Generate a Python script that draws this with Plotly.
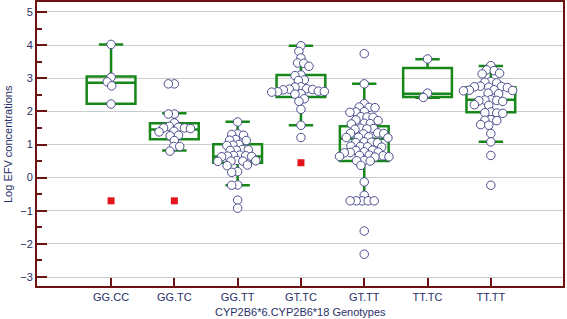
import math
import plotly.graph_objects as go

# ---------------- data ----------------
categories = ["GG.CC", "GG.TC", "GG.TT", "GT.TC", "GT.TT", "TT.TC", "TT.TT"]

gg_cc = [4.02, 3.03, 2.89, 2.77, 2.22]
gg_tc = [2.83, 2.83, 1.92, 1.92, 1.65, 1.55, 1.52, 1.5, 1.5, 1.48, 1.40, 1.38,
         1.28, 1.26, 1.12, 0.94, 0.94, 0.8]
gg_tt = [1.68, 1.32, 1.3, 1.28, 1.15, 1.13, 1.12, 1.0, 0.98, 0.97, 0.85, 0.84,
         0.83, 0.82, 0.68, 0.67, 0.66, 0.65, 0.64, 0.63, 0.52, 0.51, 0.5, 0.5,
         0.49, 0.38, 0.36, 0.18, 0.16, -0.22, -0.23, -0.68, -0.92]
gt_tc = [3.98, 3.81, 3.61, 3.46, 3.45, 3.36, 3.1, 3.08, 2.95, 2.93, 2.74, 2.73,
         2.68, 2.67, 2.66, 2.65, 2.61, 2.6, 2.59, 2.58, 2.53, 2.52, 2.38, 2.3,
         2.06, 1.58, 1.21]
gt_tt = [3.74, 2.83, 2.23, 2.13, 2.12, 2.11, 1.99, 1.98, 1.97, 1.84, 1.83, 1.82,
         1.74, 1.72, 1.64, 1.63, 1.62, 1.49, 1.48, 1.47, 1.46, 1.35, 1.34, 1.33,
         1.32, 1.23, 1.22, 1.21, 1.2, 1.08, 1.07, 1.06, 1.05, 0.95, 0.94, 0.93,
         0.92, 0.83, 0.82, 0.78, 0.77, 0.76, 0.75, 0.68, 0.67, 0.66, 0.64, 0.63,
         0.62, 0.52, 0.51, 0.5, 0.37, -0.13, -0.53, -0.7, -0.7, -0.7, -0.7, -0.7,
         -1.61, -2.31]
tt_tc = [3.58, 2.55, 2.42]
tt_tt = [3.38, 3.25, 3.23, 3.15, 3.13, 2.9, 2.88, 2.86, 2.76, 2.75, 2.74, 2.73,
         2.72, 2.65, 2.64, 2.63, 2.62, 2.55, 2.53, 2.35, 2.34, 2.33, 2.32, 2.3,
         2.2, 2.18, 1.98, 1.96, 1.95, 1.94, 1.75, 1.73, 1.72, 1.6, 1.58, 1.33,
         1.08, 0.67, -0.23]
group_values = [gg_cc, gg_tc, gg_tt, gt_tc, gt_tt, tt_tc, tt_tt]

q1 = [2.23, 1.16, 0.45, 2.43, 0.50, 2.43, 1.97]
medians = [2.86, 1.45, 0.64, 2.66, 1.17, 2.53, 2.35]
q3 = [3.05, 1.64, 1.01, 3.10, 1.55, 3.31, 2.73]
lower_fence = [2.23, 0.82, -0.23, 1.58, -0.70, 2.41, 1.08]
upper_fence = [4.02, 1.94, 1.69, 3.98, 2.83, 3.57, 3.37]

red_categories = ["GG.CC", "GG.TC", "GT.TC"]
red_values = [-0.70, -0.70, 0.45]

# ---------------- styling ----------------
GREEN = "#17871a"
AXIS = "#6b1212"
NAVY = "#283068"
PT_LINE = "#4d4d8f"
FONT = "Liberation Sans, Arial, sans-serif"

X_MIN, X_MAX = -1.17, 7.14
Y_MIN, Y_MAX = -3.27, 5.30
W, H = 567, 319
ML, MR, MT, MB = 37, 4, 2, 33
PX_X = (W - ML - MR) / (X_MAX - X_MIN)
PX_Y = (H - MT - MB) / (Y_MAX - Y_MIN)
MARK = 8.5
SEP = 6.0   # allowed centre distance (points overlap a little, like the original)


def swarm_offsets(vals):
    """Beeswarm: put each point as close to the centre as possible."""
    order = sorted(range(len(vals)), key=lambda k: -vals[k])
    placed = []
    offs = [0.0] * len(vals)
    for k in order:
        y = vals[k] * PX_Y
        cands = [0.0]
        for (px, py) in placed:
            dy = y - py
            if abs(dy) < SEP:
                dx = math.sqrt(SEP ** 2 - dy ** 2)
                cands += [px + dx, px - dx]
        cands.sort(key=lambda c: (abs(c), c))
        for c in cands:
            ok = all((c - px) ** 2 + (y - py) ** 2 >= SEP ** 2 - 1e-6
                     for (px, py) in placed)
            if ok:
                placed.append((c, y))
                offs[k] = c / PX_X
                break
    return offs


fig = go.Figure()

for i, cat in enumerate(categories):
    fig.add_trace(go.Box(
        x=[i], q1=[q1[i]], median=[medians[i]], q3=[q3[i]],
        lowerfence=[lower_fence[i]], upperfence=[upper_fence[i]],
        width=0.77, whiskerwidth=0.5, boxpoints=False,
        line=dict(color=GREEN, width=2.5), fillcolor="rgba(0,0,0,0)",
        showlegend=False, hoverinfo="skip"))

for i, vals in enumerate(group_values):
    offs = swarm_offsets(vals)
    fig.add_trace(go.Scatter(
        x=[i + o for o in offs], y=vals, mode="markers",
        marker=dict(size=MARK, color="white",
                    line=dict(color=PT_LINE, width=1)),
        showlegend=False))

fig.add_trace(go.Scatter(
    x=[categories.index(c) for c in red_categories], y=red_values,
    mode="markers",
    marker=dict(symbol="square", size=7, color="#e3141b"),
    showlegend=False))

fig.update_layout(
    width=W, height=H,
    margin=dict(l=ML, r=MR, t=MT, b=MB),
    paper_bgcolor="white", plot_bgcolor="white",
    font=dict(family=FONT, size=11, color=NAVY),
    annotations=[
        dict(text="CYP2B6*6.CYP2B6*18 Genotypes", xref="paper", yref="paper",
             x=0.5, y=-(312 - (H - MB)) / (H - MT - MB), xanchor="center",
             yanchor="middle", showarrow=False,
             font=dict(size=11, color=NAVY)),
        dict(text="Log EFV concentrations", xref="paper", yref="paper",
             x=-(ML - 8) / (W - ML - MR), y=0.5, xanchor="center",
             yanchor="middle", textangle=-90, showarrow=False,
             font=dict(size=11, color=NAVY)),
    ],
)
fig.update_xaxes(
    range=[X_MIN, X_MAX], tickmode="array", automargin=False,
    tickvals=list(range(len(categories))), ticktext=categories,
    ticks="inside", ticklen=8, tickwidth=2, tickcolor=AXIS,
    showline=True, linecolor=AXIS, linewidth=2, mirror=True,
    showgrid=False, zeroline=False,
    tickfont=dict(size=11, color=NAVY),
)
fig.update_yaxes(
    range=[Y_MIN, Y_MAX], tickmode="linear", tick0=0, dtick=1,
    automargin=False,
    ticks="inside", ticklen=10, tickwidth=2, tickcolor=AXIS,
    minor=dict(ticks="inside", ticklen=5, tickwidth=1.5, dtick=0.5, tick0=0,
               tickcolor=AXIS, showgrid=False),
    showline=True, linecolor=AXIS, linewidth=2, mirror=True,
    showgrid=True, gridcolor="#cccccc", gridwidth=1, zeroline=False,
    tickfont=dict(size=11, color=NAVY),
)

fig.write_html(
    "out.html",
    config={"displayModeBar": False},
    post_script="document.body.style.margin='0';"
                "document.body.style.overflow='hidden';")
